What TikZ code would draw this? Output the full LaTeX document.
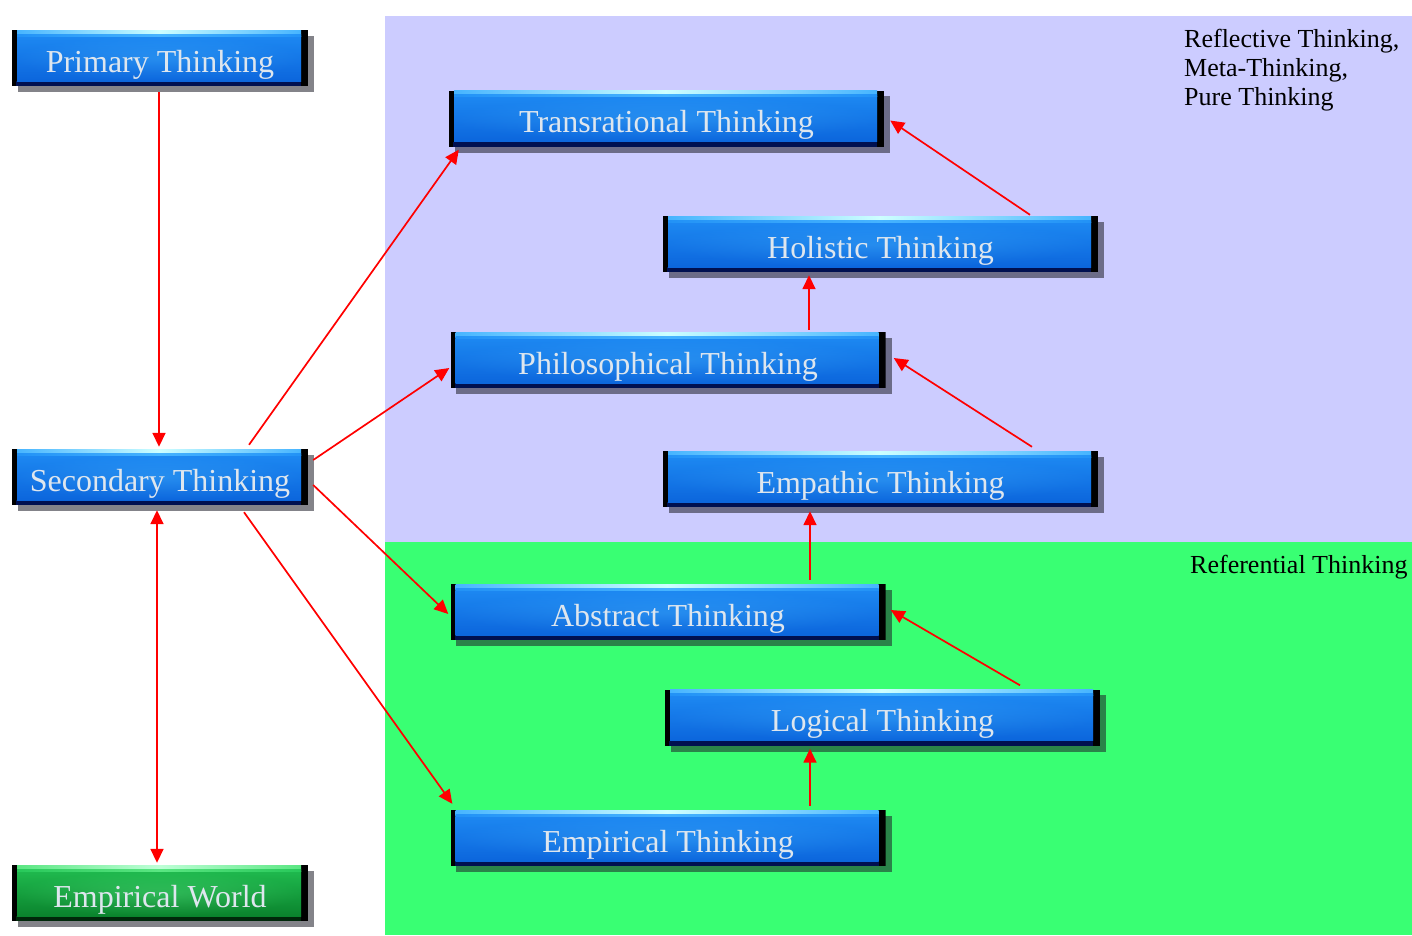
\documentclass[tikz,border=0pt]{standalone}
\usepackage{fontspec}
\setmainfont{Liberation Serif}
\usetikzlibrary{arrows.meta,backgrounds}
\definecolor{lav}{RGB}{204,204,255}
\definecolor{grn}{RGB}{57,255,115}
\definecolor{btntext}{RGB}{222,230,238}
\definecolor{bA}{RGB}{34,146,246}
\definecolor{bB}{RGB}{20,118,234}
\definecolor{bC}{RGB}{8,94,214}
\definecolor{bL}{RGB}{70,180,255}
\definecolor{bH}{RGB}{205,255,255}
\definecolor{bD}{RGB}{0,16,80}
\definecolor{gA}{RGB}{40,200,90}
\definecolor{gB}{RGB}{16,158,56}
\definecolor{gC}{RGB}{8,118,40}
\definecolor{gL}{RGB}{90,230,130}
\definecolor{gH}{RGB}{190,255,215}
\definecolor{gD}{RGB}{0,40,10}
\definecolor{shadowc}{RGB}{30,30,40}
\newcommand{\btnpic}[6]{%
  \coordinate (pnw) at (path picture bounding box.north west);
  \coordinate (pse) at (path picture bounding box.south east);
  \coordinate (pne) at (path picture bounding box.north east);
  \coordinate (psw) at (path picture bounding box.south west);
  \coordinate (pc) at (path picture bounding box.center);
  \fill[black] (pnw) rectangle (pse);
  \fill[#6] ([xshift=4pt]psw) rectangle ([xshift=-7pt,yshift=5pt]pse);
  \shade[top color=#1, middle color=#2, bottom color=#3] ([xshift=5pt,yshift=-6pt]pnw) rectangle ([xshift=-7pt,yshift=5pt]pse);
  \shade[inner color=#4, outer color=#2, opacity=0.35] ([xshift=5pt,yshift=-6pt]pnw) rectangle ([xshift=-7pt,yshift=5pt]pse);
  \shade[left color=#4, right color=#4, middle color=#5] ([xshift=5pt]pnw) rectangle ([xshift=-7pt,yshift=-6pt]pne);
  \shade[left color=#1, right color=#1, middle color=#4] ([xshift=5pt,yshift=-4pt]pnw) rectangle ([xshift=-7pt,yshift=-6pt]pne);
}
\tikzset{
  btn/.style={minimum height=56pt, inner sep=0pt, text=btntext,
    font=\fontsize{32}{38}\selectfont, text height=34pt, text depth=6pt},
  bluebtn/.style={btn, minimum width=#1, path picture={\btnpic{bA}{bB}{bC}{bL}{bH}{bD}}},
  greenbtn/.style={btn, minimum width=#1, path picture={\btnpic{gA}{gB}{gC}{gL}{gH}{gD}}},
  arr/.style={draw=red, line width=1.7pt, -{Triangle[length=14pt,width=13pt]}},
  lbl/.style={inner sep=0pt, text=black, font=\fontsize{26}{29}\selectfont, align=left},
  shadowbox/.style={fill=shadowc, opacity=0.55}
}
\newcommand{\shadowof}[1]{\fill[shadowbox] ([shift={(6pt,-6pt)}]#1.north west) rectangle ([shift={(6pt,-6pt)}]#1.south east);}
\begin{document}
\begin{tikzpicture}[x=1pt,y=-1pt]
\useasboundingbox (0,0) rectangle (1412,935);
% nodes
\node[bluebtn=296pt] (prim) at (160,58) {Primary Thinking};
\node[bluebtn=296pt] (sec) at (160,477) {Secondary Thinking};
\node[greenbtn=296pt] (ew) at (160,893) {Empirical World};
\node[bluebtn=435pt] (trans) at (666.5,118.5) {Transrational Thinking};
\node[bluebtn=435pt] (hol) at (880.5,244) {Holistic Thinking};
\node[bluebtn=435pt] (phil) at (668,360) {Philosophical Thinking};
\node[bluebtn=435pt] (emp) at (880.5,479) {Empathic Thinking};
\node[bluebtn=435pt] (abs) at (668,612) {Abstract Thinking};
\node[bluebtn=435pt] (log) at (882.5,717.5) {Logical Thinking};
\node[bluebtn=435pt] (empt) at (668,838) {Empirical Thinking};
% labels
\node[lbl, anchor=north west] (refl) at (1184,29) {Reflective Thinking,\\Meta-Thinking,\\Pure Thinking};
\node[lbl, anchor=base west] (refe) at (1190,573) {Referential Thinking};
% arrows
\draw[arr] ([xshift=-1pt,yshift=-6pt]prim.south) -- ([xshift=-1pt,yshift=2pt]sec.north);
\draw[arr] ([xshift=89pt,yshift=4pt]sec.north) -- ([xshift=10pt,yshift=-3pt]trans.south west);
\draw[arr] ([xshift=5pt,yshift=17pt]sec.east) -- ([xshift=-1pt,yshift=-8pt]phil.west);
\draw[arr] ([xshift=5pt,yshift=-8pt]sec.east) -- ([xshift=-2pt,yshift=-2pt]abs.west);
\draw[arr] ([xshift=84pt,yshift=-7pt]sec.south) -- ([xshift=2pt,yshift=6pt]empt.north west);
\draw[arr, {Triangle[length=14pt,width=13pt]}-{Triangle[length=14pt,width=13pt]}] ([xshift=-3pt,yshift=-5pt]sec.south) -- ([xshift=-3pt,yshift=2pt]ew.north);
\draw[arr] ([xshift=149.5pt,yshift=1pt]hol.north) -- ([xshift=6pt,yshift=-2pt]trans.east);
\draw[arr] ([xshift=141pt,yshift=2pt]phil.north) -- ([xshift=-71.5pt,yshift=-3pt]hol.south);
\draw[arr] ([xshift=151.5pt,yshift=4pt]emp.north) -- ([xshift=8pt,yshift=2pt]phil.east);
\draw[arr] ([xshift=142pt,yshift=4pt]abs.north) -- ([xshift=-70.5pt,yshift=-4pt]emp.south);
\draw[arr] ([xshift=137.5pt,yshift=4pt]log.north) -- ([xshift=5pt,yshift=2pt]abs.east);
\draw[arr] ([xshift=142pt,yshift=4pt]empt.north) -- ([xshift=-72.5pt,yshift=-3pt]log.south);
% background and shadows
\begin{scope}[on background layer]
\fill[lav] (385,16) rectangle (1412,542);
\fill[grn] (385,542) rectangle (1412,935);
\shadowof{prim}\shadowof{sec}\shadowof{ew}\shadowof{trans}\shadowof{hol}
\shadowof{phil}\shadowof{emp}\shadowof{abs}\shadowof{log}\shadowof{empt}
\end{scope}
\end{tikzpicture}
\end{document}
